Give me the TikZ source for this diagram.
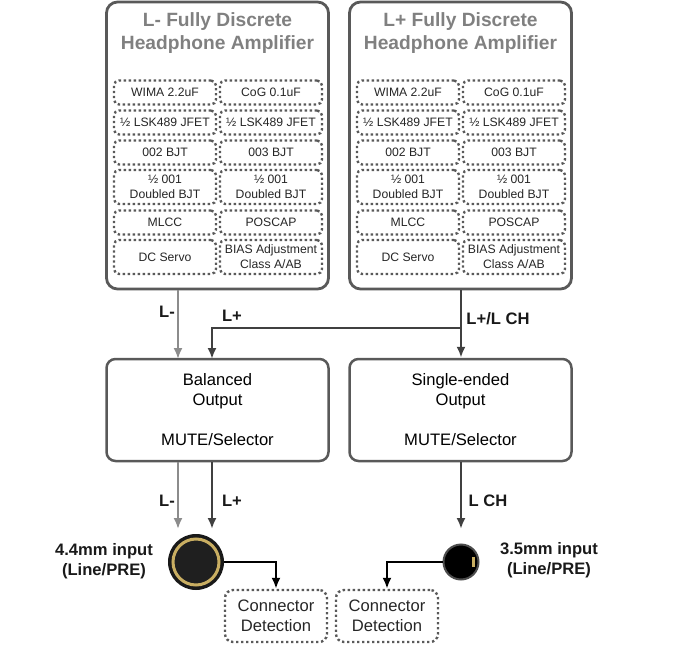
\documentclass[tikz,border=0pt]{standalone}
\usepackage{fontspec}
\setmainfont{Liberation Sans}
\usetikzlibrary{arrows.meta}
\definecolor{boxgray}{HTML}{595959}
\definecolor{titlegray}{HTML}{808080}
\definecolor{wiregray}{HTML}{8C8C8C}
\definecolor{wiredark}{HTML}{404040}
\definecolor{jackgold}{HTML}{C9AE62}
\tikzset{
	ampbox/.style={draw=boxgray,line width=2.8pt,rounded corners=11pt,minimum width=222pt,minimum height=287pt,inner sep=0pt},
	outbox/.style={draw=boxgray,line width=2.5pt,rounded corners=9pt,minimum width=222pt,minimum height=102pt,align=center,font=\fontsize{16.6}{20}\selectfont,inner sep=0pt},
	titlelabel/.style={text=titlegray,align=center,font=\fontsize{19.2}{23}\selectfont\bfseries,inner sep=0pt},
	cellbox/.style={draw=boxgray,line width=2.4pt,dash pattern=on 2.4pt off 2.6pt,rounded corners=5pt,minimum width=102pt,align=center,font=\fontsize{12.2}{15}\selectfont,inner sep=0pt,text=black!85},
	detectbox/.style={draw=boxgray,line width=2.4pt,dash pattern=on 2.4pt off 2.6pt,rounded corners=8pt,minimum width=102pt,minimum height=52pt,align=center,font=\fontsize{16.6}{20}\selectfont,inner sep=0pt,text=black!85},
	wirelabel/.style={font=\fontsize{16.6}{20}\selectfont\bfseries,align=center,inner sep=0pt,text=black!90},
	grayarrow/.style={draw=wiregray,line width=2pt,-{Latex[length=11pt,width=9pt]}},
	darkarrow/.style={draw=wiredark,line width=2.2pt,-{Latex[length=11pt,width=9pt]}},
	blackarrow/.style={draw=black,line width=2.2pt,-{Latex[length=11pt,width=9pt]}},
}
\begin{document}
\begin{tikzpicture}[x=1pt,y=-1pt]
	\useasboundingbox (0,0) rectangle (699,666);
	% amplifier boxes
	\foreach \amp/\xa/\sgn in {ampm/217.5/-,ampp/460.5/+}{
		\node[ampbox] (\amp) at (\xa,145.5) {};
		\node[titlelabel] (\amp title) at (\xa,33.5) {L\sgn{} Fully Discrete\\Headphone Amplifier};
		\foreach \row/\ya/\ha/\txta/\txtb in {
			a/92.5/24/{WIMA 2.2uF}/{CoG 0.1uF},
			b/122.5/24/{½ LSK489 JFET}/{½ LSK489 JFET},
			c/152.5/24/{002 BJT}/{003 BJT},
			d/187/34/{½ 001\\Doubled BJT}/{½ 001\\Doubled BJT},
			e/222.5/24/{MLCC}/{POSCAP},
			f/257/34/{DC Servo}/{BIAS Adjustment\\Class A/AB}}{
			\node[cellbox,minimum height=\ha pt] (\amp\row l) at (\xa-52.5,\ya) {\txta};
			\node[cellbox,minimum height=\ha pt] (\amp\row r) at (\xa+53.5,\ya) {\txtb};
		}
	}
	% output boxes
	\node[outbox] (balanced) at (217.5,410) {Balanced\\Output\\[20pt]MUTE/Selector};
	\node[outbox] (singleended) at (460.5,410) {Single-ended\\Output\\[20pt]MUTE/Selector};
	% jacks
	\node[circle,fill=black!90,minimum size=56pt,inner sep=0pt] (jackbal) at (196,562) {};
	\node[circle,draw=jackgold,line width=3pt,fill=black!88,minimum size=46pt,inner sep=0pt] (jackbalring) at (jackbal) {};
	\node[circle,draw=black!70,line width=2pt,fill=black,minimum size=35pt,inner sep=0pt] (jacksingle) at (461,562) {};
	\node[fill=jackgold,minimum width=3pt,minimum height=10pt,inner sep=0pt] (jackpin) at (473,562) {};
	\node[wirelabel] (jackballabel) at (104,561) {4.4mm input\\(Line/PRE)};
	\node[wirelabel] (jacksinglelabel) at (549,560) {3.5mm input\\(Line/PRE)};
	% detection
	\node[detectbox] (detectbal) at (276,616) {Connector\\Detection};
	\node[detectbox] (detectsingle) at (387,616) {Connector\\Detection};
	% wires
	\coordinate (lminus) at (178,359);
	\coordinate (lplus) at (212,359);
	\coordinate (branch) at (461,328);
	\coordinate (lminusend) at (178,529);
	\coordinate (lplusend) at (212,529);
	\coordinate (lchend) at (461,529);
	\draw[grayarrow] (ampm.south -| lminus) -- (lminus);
	\draw[darkarrow] (ampp.south -| branch) -- (singleended.north -| branch);
	\draw[darkarrow] (branch) -| (lplus);
	\draw[grayarrow] (balanced.south -| lminusend) -- (lminusend);
	\draw[darkarrow] (balanced.south -| lplusend) -- (lplusend);
	\draw[darkarrow] (singleended.south -| lchend) -- (lchend);
	\draw[blackarrow] (jackbal.east) -| (detectbal.north);
	\draw[blackarrow] (jacksingle.west) -| (detectsingle.north);
	% wire labels
	\node[wirelabel] (lbla) at (167,312) {L-};
	\node[wirelabel] (lblb) at (232,316) {L+};
	\node[wirelabel] (lblc) at (498,319) {L+/L CH};
	\node[wirelabel] (lbld) at (167,501) {L-};
	\node[wirelabel] (lble) at (232,501) {L+};
	\node[wirelabel] (lblf) at (488,501) {L CH};
\end{tikzpicture}
\end{document}
